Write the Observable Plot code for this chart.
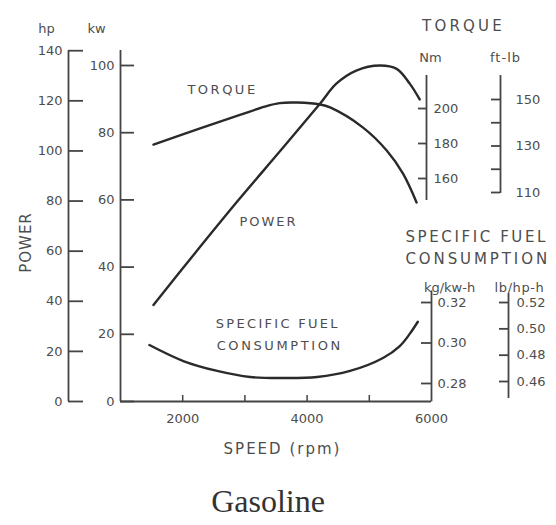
<!DOCTYPE html>
<html>
<head>
<meta charset="utf-8">
<script src="https://cdn.jsdelivr.net/npm/d3@7"></script>
<script src="https://cdn.jsdelivr.net/npm/@observablehq/plot@0.6"></script>
<style>
  html, body { margin: 0; padding: 0; background: #fff; }
  #chart { position: relative; width: 556px; height: 525px; }
  #caption {
    position: absolute; left: 0; top: 485px; width: 536px;
    text-align: center; font-family: "Liberation Serif", "Times New Roman", serif;
    font-size: 32px; line-height: 32px; color: #333;
  }
</style>
</head>
<body>
<div id="chart"></div>
<script>
// Engine performance curves of a gasoline engine versus speed.

// Torque (N·m) against engine speed (rpm)
const torqueRpm = [1530, 2280, 2920, 3320, 3560, 3840, 4210, 4370, 4900, 5280, 5540, 5760];
const torqueNm  = [179.4, 188.6, 196.3, 201.1, 203.1, 203.4, 202.3, 200.6, 189.1, 176.0, 162.9, 146.3];

// Power (kW) against engine speed (rpm)
const powerRpm = [1530, 2200, 2890, 3570, 4210, 4470, 4790, 5170, 5440, 5650, 5810];
const powerKw  = [28.7, 44.2, 59.8, 74.6, 88.7, 94.6, 98.5, 100.0, 99.0, 94.6, 89.9];

// Specific fuel consumption (kg/kW·h) against engine speed (rpm)
const sfcRpm = [1465, 2010, 2555, 3085, 3615, 4160, 4690, 5220, 5490, 5650, 5780];
const sfcKg  = [0.299, 0.2911, 0.2862, 0.2832, 0.2827, 0.2832, 0.2862, 0.2926, 0.2985, 0.3045, 0.3105];

// Tick values of every axis
const hpTicks   = [0, 20, 40, 60, 80, 100, 120, 140];
const kwTicks   = [0, 20, 40, 60, 80, 100];
const rpmTicks  = [2000, 3000, 4000, 5000];
const rpmLabels = [2000, 4000, 6000];
const nmTicks   = [160, 180, 200];
const ftlbTicks = [110, 130, 150];
const ftlbMinor = [120, 140];
const kgTicks   = [0.28, 0.30, 0.32];
const lbTicks   = [0.46, 0.48, 0.50, 0.52];

// The shared vertical scale is in kW; the other quantities are drawn
// against it through these linear conversions.
const hpToKw = hp => hp / 1.341;
const nm   = d3.scaleLinear([160, 200], [66.37, 87.20]);
const ftlb = d3.scaleLinear([110, 150], [62.20, 89.88]);
const kg   = d3.scaleLinear([0.28, 0.32], [5.36, 29.46]);
const lb   = d3.scaleLinear([0.46, 0.52], [5.95, 29.46]);

const INK = "#2a2a2a";
const AXIS = "#444";
const TEXT = "#4d4d4d";

const zip = (xs, ys) => xs.map((x, i) => ({rpm: x, v: ys[i]}));

// A vertical axis: line, ticks (positive len = to the right) and labels.
function yAxis({ticks, minor = [], to, extent, x, dx, len, labelDx, anchor, fmt = d => String(d)}) {
  return [
    Plot.ruleX([x], {x: d => d, y1: to(extent[0]), y2: to(extent[1]), dx, stroke: AXIS, strokeWidth: 1.8}),
    Plot.ruleY([...ticks, ...minor], {
      y: d => to(d), x1: x, x2: x, dx,
      insetLeft: len < 0 ? len : 0, insetRight: len > 0 ? -len : 0,
      stroke: AXIS, strokeWidth: 1.8
    }),
    Plot.text(ticks, {x, y: d => to(d), text: fmt, dx: dx + labelDx, textAnchor: anchor, fill: TEXT, fontSize: 13})
  ];
}

// Free-standing label placed in pixels from the top-left corner
const label = (t, px, py, opts = {}) =>
  Plot.text([t], {frameAnchor: "top-left", dx: px, dy: py, text: d => d, textAnchor: "middle", fill: TEXT, fontSize: 13, ...opts});

const chart = Plot.plot({
  width: 556, height: 470,
  marginTop: 0, marginRight: 0, marginBottom: 0, marginLeft: 0,
  x: {domain: [1000, 6000], range: [120, 431], axis: null},
  y: {domain: [0, 100], range: [401, 65], axis: null},
  style: {fontFamily: "'DejaVu Sans', sans-serif", fontSize: "13px", background: "white", overflow: "visible"},
  marks: [
    // left axes: hp and kW
    yAxis({ticks: hpTicks, to: hpToKw, extent: [0, 140], x: 1000, dx: -52, len: 15, labelDx: -6, anchor: "end"}),
    yAxis({ticks: kwTicks, to: d => d, extent: [0, 104.5], x: 1000, dx: 0, len: 14, labelDx: -6, anchor: "end"}),

    // speed axis
    Plot.ruleY([0], {x1: 1000, x2: 6000, stroke: AXIS, strokeWidth: 1.8}),
    Plot.ruleX(rpmTicks, {x: d => d, y1: 0, y2: 0, insetBottom: 6, stroke: AXIS, strokeWidth: 1.5}),
    Plot.text(rpmLabels, {x: d => d, y: 0, dy: 17, text: d => String(d), fill: TEXT, fontSize: 13}),

    // right axes: torque (N·m, ft-lb) and fuel consumption (kg/kW·h, lb/hp·h)
    yAxis({ticks: nmTicks, to: nm, extent: [147.4, 218.9], x: 6000, dx: -5, len: -8, labelDx: 7, anchor: "start"}),
    yAxis({ticks: ftlbTicks, minor: ftlbMinor, to: ftlb, extent: [109.6, 160.3], x: 6000, dx: 69, len: -9, labelDx: 15, anchor: "start"}),
    yAxis({ticks: kgTicks, to: kg, extent: [0.2709, 0.3257], x: 6000, dx: 0, len: -10, labelDx: 6, anchor: "start", fmt: d => d.toFixed(2)}),
    yAxis({ticks: lbTicks, to: lb, extent: [0.4471, 0.5268], x: 6000, dx: 77, len: -9, labelDx: 8, anchor: "start", fmt: d => d.toFixed(2)}),

    // curves
    Plot.line(zip(torqueRpm, torqueNm), {x: "rpm", y: d => nm(d.v), curve: "catmull-rom", stroke: INK, strokeWidth: 2.4}),
    Plot.line(zip(powerRpm, powerKw), {x: "rpm", y: "v", curve: "catmull-rom", stroke: INK, strokeWidth: 2.4}),
    Plot.line(zip(sfcRpm, sfcKg), {x: "rpm", y: d => kg(d.v), curve: "catmull-rom", stroke: INK, strokeWidth: 2.4}),

    // curve names
    Plot.text(["TORQUE"], {x: 2640, y: 92.9, text: d => d, fill: TEXT, fontSize: 13}),
    Plot.text(["POWER"], {x: 3380, y: 53.6, text: d => d, fill: TEXT, fontSize: 13}),
    Plot.text(["SPECIFIC FUEL"], {x: 3530, y: 23.2, text: d => d, fill: TEXT, fontSize: 13}),
    Plot.text(["CONSUMPTION"], {x: 3560, y: 16.7, text: d => d, fill: TEXT, fontSize: 13}),

    // axis titles and units
    label("hp", 46, 23),
    label("kw", 96, 23),
    label("POWER", 20, 242, {rotate: -90, fontSize: 15}),
    label("SPEED (rpm)", 282, 443, {fontSize: 15}),
    label("TORQUE", 463, 20, {fontSize: 15}),
    label("Nm", 430, 52),
    label("ft-lb", 505, 52),
    label("SPECIFIC FUEL", 405, 231, {fontSize: 15, textAnchor: "start"}),
    label("CONSUMPTION", 405, 253, {fontSize: 15, textAnchor: "start"}),
    label("kg/kw-h", 449, 282),
    label("lb/hp-h", 519, 282)
  ]
});

// wide technical lettering; keyed by text and font size
const spacing = new Map([
  ["TORQUE@13", 2.5], ["TORQUE@15", 3.2], ["POWER@13", 2], ["POWER@15", 1],
  ["SPECIFIC FUEL@13", 2.3], ["CONSUMPTION@13", 2.6],
  ["SPECIFIC FUEL@15", 2.6], ["CONSUMPTION@15", 2.9],
  ["SPEED (rpm)@15", 2], ["ft-lb@13", 1], ["lb/hp-h@13", 0.6]
]);
d3.select(chart).selectAll("text").each(function () {
  const g = this.closest("g[font-size]");
  const size = g ? parseFloat(g.getAttribute("font-size")) : 13;
  const s = spacing.get(`${this.textContent}@${size}`);
  if (s != null) this.setAttribute("letter-spacing", s);
});

const root = document.getElementById("chart");
root.appendChild(chart);
const cap = document.createElement("div");
cap.id = "caption";
cap.textContent = "Gasoline";
root.appendChild(cap);
</script>
</body>
</html>
